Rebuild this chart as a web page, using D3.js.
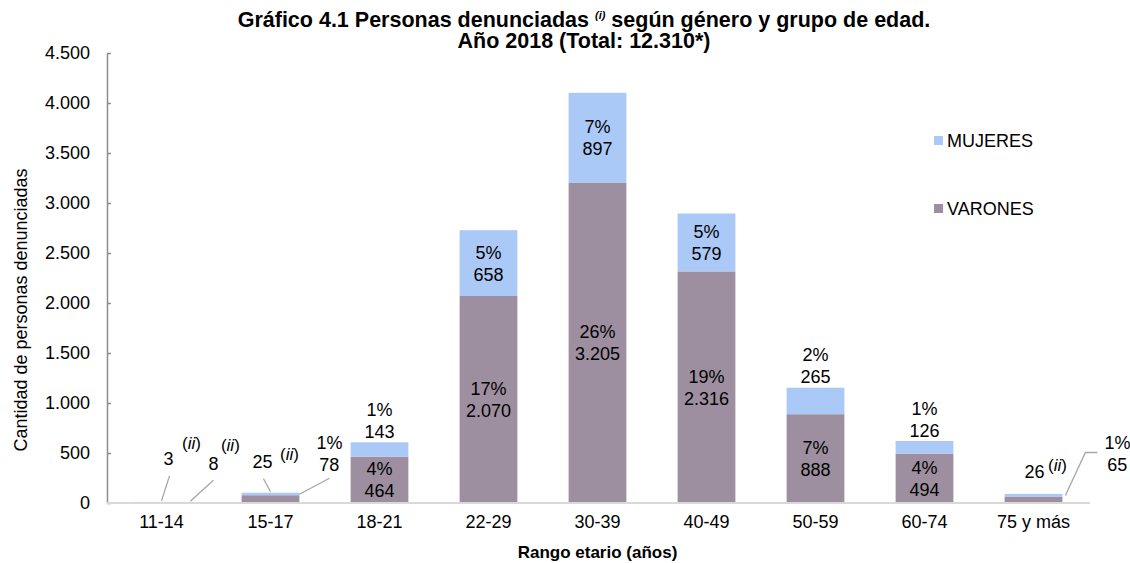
<!DOCTYPE html>
<html>
<head>
<meta charset="utf-8">
<script src="https://cdn.jsdelivr.net/npm/d3@7"></script>
<style>
  body { margin: 0; background: #fff; }
  svg text { font-family: "Liberation Sans", Arial, sans-serif; fill: #000; }
</style>
</head>
<body>
<svg id="chart" width="1130" height="563"></svg>
<script>
var categorias = ['11-14', '15-17', '18-21', '22-29', '30-39', '40-49', '50-59', '60-74', '75 y más'];
var varones = [8, 78, 464, 2070, 3205, 2316, 888, 494, 65];
var mujeres = [3, 25, 143, 658, 897, 579, 265, 126, 26];
var pctVarones = ['', '1%', '4%', '17%', '26%', '19%', '7%', '4%', '1%'];
var pctMujeres = ['', '', '1%', '5%', '7%', '5%', '2%', '1%', ''];
var yTicks = [0, 500, 1000, 1500, 2000, 2500, 3000, 3500, 4000, 4500];

var colores = { mujeres: '#abc9f6', varones: '#9d8f9f' };

var locale = d3.formatLocale({ decimal: ',', thousands: '.', grouping: [3], currency: ['$', ''] });
var fmt = locale.format(',d');

function drawChart() {
    var svg = d3.select('#chart');
    var width = +svg.attr('width');
    var height = +svg.attr('height');

    var padding = { top: 53, right: 42, bottom: 60, left: 107 };

    var xScale = d3.scaleBand()
                    .domain(categorias)
                    .range([padding.left, width - padding.right])
                    .paddingInner(0.47)
                    .paddingOuter(0.235);

    var yScale = d3.scaleLinear()
                    .domain([0, 4500])
                    .range([height - padding.bottom, padding.top]);

    var rows = categorias.map((c, i) => ({
        cat: c, i: i,
        varones: varones[i], mujeres: mujeres[i],
        pv: pctVarones[i], pm: pctMujeres[i]
    }));

    var stacked = d3.stack().keys(['varones', 'mujeres'])(rows);

    // y axis
    var yAxis = d3.axisLeft(yScale)
                    .tickValues(yTicks)
                    .tickSizeInner(-4)
                    .tickSizeOuter(0)
                    .tickPadding(17)
                    .tickFormat(d => fmt(d));
    var gy = svg.append('g')
        .attr('transform', `translate(${padding.left}, 0)`)
        .call(yAxis);
    gy.select('.domain').attr('stroke', '#8c8c8c').attr('stroke-width', 1.5);
    gy.selectAll('.tick line').attr('stroke', '#8c8c8c').attr('stroke-width', 1.5);
    gy.selectAll('.tick text').style('font-size', '18px').style('font-family', '"Liberation Sans", Arial, sans-serif');

    // bars
    svg.selectAll('.serie')
        .data(stacked)
        .enter()
        .append('g')
            .classed('serie', true)
            .attr('fill', d => colores[d.key])
        .selectAll('rect')
        .data(d => d)
        .enter()
        .append('rect')
            .attr('x', d => xScale(d.data.cat))
            .attr('width', xScale.bandwidth())
            .attr('y', d => yScale(d[1]))
            .attr('height', d => yScale(d[0]) - yScale(d[1]));

    // x axis (baseline + labels)
    var xAxis = d3.axisBottom(xScale).tickSize(0).tickPadding(12);
    var gx = svg.append('g')
        .attr('transform', `translate(0, ${yScale(0)})`)
        .call(xAxis);
    gx.select('.domain').attr('stroke', '#d9d9d9').attr('stroke-width', 2)
        .attr('d', `M${padding.left},0H${width - padding.right + 2}`);
    gx.selectAll('.tick text').style('font-size', '18px').style('font-family', '"Liberation Sans", Arial, sans-serif');

    // data labels
    var labels = svg.append('g').style('font-size', '18px').attr('text-anchor', 'middle');
    function twoLines(x, yMid, a, b) {
        labels.append('text').attr('x', x).attr('y', yMid - 4.5).text(a);
        labels.append('text').attr('x', x).attr('y', yMid + 17.5).text(b);
    }
    stacked.forEach(s => {
        s.forEach(d => {
            var y0 = yScale(d[0]), y1 = yScale(d[1]);
            var cx = xScale(d.data.cat) + xScale.bandwidth() / 2;
            var pct = s.key === 'varones' ? d.data.pv : d.data.pm;
            var val = d.data[s.key];
            if (y0 - y1 > 40) {
                twoLines(cx, (y0 + y1) / 2, pct, fmt(val));
            } else if (s.key === 'mujeres' && val > 100) {
                twoLines(cx, y1 - 22, pct, fmt(val));
            }
        });
    });

    // callouts for small segments
    var bw = xScale.bandwidth();
    var callouts = [
        { i: 0, serie: 'mujeres', ax: 0.5, lx: 7, ly: -43, txt: ['3'], sup: [23, -16], sx: 8 },
        { i: 0, serie: 'varones', ax: 1, lx: 23, ly: -39, txt: ['8'], sup: [17, -18], sx: 23 },
        { i: 1, serie: 'mujeres', ax: 0.5, lx: -8, ly: -31, txt: ['25'], sup: [27, -8], sx: -7 },
        { i: 1, serie: 'varones', ax: 1, lx: 30, ly: -42, txt: ['1%', '78'], sx: 30 },
        { i: 8, serie: 'mujeres', ax: 0.5, lx: 1, ly: -22, txt: ['26'], sup: [23, -7] },
        { i: 8, serie: 'varones', ax: 1, lx: 55, ly: -43, txt: ['1%', '65'], bent: true }
    ];
    var lead = svg.append('g').attr('stroke', '#a6a6a6').attr('stroke-width', 1.3).attr('fill', 'none');
    callouts.forEach(c => {
        var s = stacked.find(k => k.key === c.serie)[c.i];
        var ax = xScale(categorias[c.i]) + bw * c.ax;
        var ay = yScale(s[1]);
        var lx = ax + c.lx, ly = ay + c.ly;
        var lineTop;
        if (c.txt.length === 2) {
            twoLines(lx, ly, c.txt[0], c.txt[1]);
            lineTop = ly + 25;
        } else {
            labels.append('text').attr('x', lx).attr('y', ly + 6.5).text(c.txt[0]);
            lineTop = ly + 17;
        }
        if (c.sup) {
            var st = labels.append('text')
                .style('font-size', '17px')
                .attr('x', lx + c.sup[0]).attr('y', ly + 6 + c.sup[1]);
            st.append('tspan').text('(');
            st.append('tspan').style('font-style', 'italic').text('ii');
            st.append('tspan').text(')');
        }
        if (c.sx !== undefined) {
            lead.append('line')
                .attr('x1', ax + c.sx).attr('y1', lineTop)
                .attr('x2', ax).attr('y2', ay - 1);
        }
        if (c.bent) {
            lead.append('path')
                .attr('d', `M${ax + 35},${ay - 44}H${ax + 23}L${ax + 3},${ay - 1}`);
        }
    });

    // legend
    var legend = svg.append('g');
    [['mujeres', 'MUJERES', 140], ['varones', 'VARONES', 208]].forEach(l => {
        legend.append('rect').attr('x', 934).attr('y', l[2] - 4).attr('width', 9).attr('height', 9)
            .attr('fill', colores[l[0]]);
        legend.append('text').attr('x', 947).attr('y', l[2] + 6.5).style('font-size', '18px').text(l[1]);
    });

    // titles
    var title = svg.append('text').attr('text-anchor', 'middle')
        .style('font-size', '21.5px').style('font-weight', 'bold')
        .attr('x', 584).attr('y', 27);
    title.append('tspan').text('Gráfico 4.1 Personas denunciadas ');
    title.append('tspan').style('font-size', '11px').style('font-style', 'italic').attr('dy', -8).text('(i)');
    title.append('tspan').attr('dy', 8).text(' según género y grupo de edad.');
    svg.append('text').attr('text-anchor', 'middle')
        .style('font-size', '21.5px').style('font-weight', 'bold')
        .attr('x', 584).attr('y', 48)
        .text('Año 2018 (Total: 12.310*)');

    svg.append('text').attr('text-anchor', 'middle')
        .style('font-size', '17px').style('font-weight', 'bold')
        .attr('x', (padding.left + width - padding.right) / 2).attr('y', 558)
        .text('Rango etario (años)');

    svg.append('text').attr('text-anchor', 'middle')
        .attr('transform', 'rotate(-90)')
        .style('font-size', '18px')
        .attr('x', -310).attr('y', 27)
        .text('Cantidad de personas denunciadas');
}

drawChart();
</script>
</body>
</html>
